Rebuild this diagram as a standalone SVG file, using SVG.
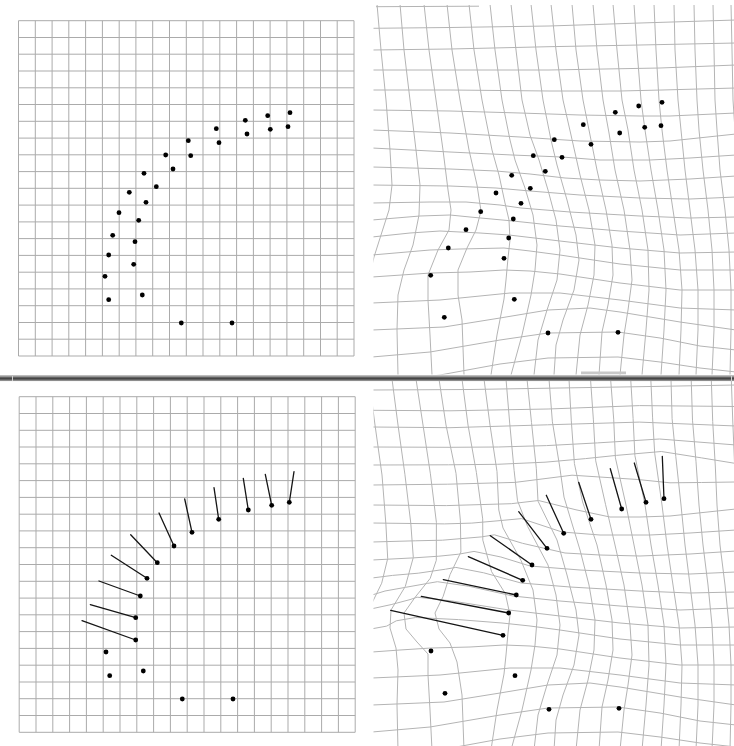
<svg xmlns="http://www.w3.org/2000/svg" xmlns:xlink="http://www.w3.org/1999/xlink" width="734" height="746" viewBox="0 0 734 746">
<style>
.g{fill:none;stroke:#ababab;stroke-width:1}
.w{fill:none;stroke:#b4b4b4;stroke-width:1;stroke-linejoin:round}
.v{stroke:#151515;stroke-width:1.3;stroke-linecap:round}
</style>
<defs>
<circle id="dot" r="2.4" fill="#000"/>
<clipPath id="cTR"><rect x="373.5" y="5" width="361" height="369.5"/></clipPath>
<clipPath id="cBR"><rect x="373.5" y="381" width="361" height="365"/></clipPath>
</defs>
<rect width="734" height="746" fill="#fff"/>

<g id="panel-top-left">
<path class="g" d="M18.5,20.7V356M35.3,20.7V356M52.1,20.7V356M68.8,20.7V356M85.6,20.7V356M102.4,20.7V356M119.2,20.7V356M135.9,20.7V356M152.7,20.7V356M169.5,20.7V356M186.3,20.7V356M203,20.7V356M219.8,20.7V356M236.6,20.7V356M253.4,20.7V356M270.1,20.7V356M286.9,20.7V356M303.7,20.7V356M320.5,20.7V356M337.2,20.7V356M354,20.7V356"/>
<path class="g" d="M18.5,20.7H354M18.5,37.5H354M18.5,54.2H354M18.5,71H354M18.5,87.8H354M18.5,104.5H354M18.5,121.3H354M18.5,138.1H354M18.5,154.8H354M18.5,171.6H354M18.5,188.3H354M18.5,205.1H354M18.5,221.9H354M18.5,238.6H354M18.5,255.4H354M18.5,272.2H354M18.5,288.9H354M18.5,305.7H354M18.5,322.5H354M18.5,339.2H354M18.5,356H354"/>
<g id="points-top-left">
<use href="#dot" x="290" y="112.7"/><use href="#dot" x="267.7" y="115.7"/><use href="#dot" x="245.3" y="120.3"/><use href="#dot" x="216.3" y="128.7"/><use href="#dot" x="188.3" y="140.7"/><use href="#dot" x="165.7" y="155"/><use href="#dot" x="144" y="173.3"/><use href="#dot" x="129.3" y="192.3"/><use href="#dot" x="119" y="212.7"/><use href="#dot" x="112.7" y="235.3"/><use href="#dot" x="108.7" y="255"/><use href="#dot" x="105" y="276.3"/><use href="#dot" x="108.7" y="299.7"/>
<use href="#dot" x="288" y="126.7"/><use href="#dot" x="270.3" y="129.3"/><use href="#dot" x="247" y="134"/><use href="#dot" x="219" y="142.7"/><use href="#dot" x="190.7" y="155.7"/><use href="#dot" x="173" y="169"/><use href="#dot" x="156.3" y="186.7"/><use href="#dot" x="146" y="202.3"/><use href="#dot" x="138.7" y="220.3"/><use href="#dot" x="135" y="241.7"/><use href="#dot" x="133.7" y="264.3"/><use href="#dot" x="142.3" y="295"/>
<use href="#dot" x="181.3" y="323"/><use href="#dot" x="232" y="323"/>
</g>
</g>

<g id="panel-top-right" clip-path="url(#cTR)">
<path class="w" d="M377,4L381,50L386,100L390,150L392,185L389,210L381,235L374,257L366,290L365,375
M400,4L404,50L410,100L416,150L420,185L419,215L413,245L404,270L398,295L397,330L398,375
M424,4L429,50L436,100L443,150L448,190L451,210L449,230L438,250L428,275L428,300L430,335L432,375
M447,4L452,50L460,100L469,150L477,185L481,211L476,230L467,248L458,270L458,295L462,320L464,375
M469,4L474,50L482,100L492,150L499,175L505,203L509,220L510,240L508,258L506,280L504,299L497,335L491,375
M490,4L495,50L502,100L510,140L515,160L525,188L533,215L537,245L535,270L531,295L522,335L511,375
M511,4L516,50L522,100L530,135L539,160L548,190L556,220L560,250L557,280L547,310L538,340L534,375
M531,4L536,50L543,100L551,140L557,165L567,200L576,235L579,260L574,290L563,320L556,345L554,375
M551,4L556,50L563,100L571,135L580,175L589,210L595,245L594,275L588,305L580,335L576,375
M572,4L576,50L583,100L590,135L597,170L606,210L612,245L613,275L608,305L602,332L599,375
M593,4L597,50L603,100L609,133L615,170L624,210L630,250L632,280L628,310L624,335L620,375
M613,4L617,50L622,100L628,130L634,170L642,210L648,250L649,290L646,330L642,375
M634,4L637,50L641,100L645,130L651,170L658,210L664,250L666,290L664,330L661,375
M654,4L656,50L659,100L662,130L667,170L673,210L679,250L682,290L681,330L679,375
M674,4L675,50L678,100L681,130L685,170L690,210L695,250L698,290L698,330L696,375
M694,4L695,50L697,100L699,130L703,170L708,210L712,250L714,290L714,330L712,375
M713,4L714,50L715,100L717,130L720,170L725,210L729,250L731,290L731,330L730,375
M731,4L732,50L733,100L735,130L738,170"/>
<path class="w" d="M376,6.7L479,6.2
M372,28.3L450,27.5L549,26L640,23L736,20
M372,50L450,49L549,46.7L640,45L736,43
M372,70L450,70L549,70L660,68L736,65
M372,90L450,90L549,91L620,91L662,90L736,88
M372,110L450,111L520,113L580,115L640,116L670,116L736,113
M372,130L450,133L520,137L580,141L640,142L670,141L736,134
M372,148L450,152L512,155L562,157L600,160L650,160L690,158L736,155
M372,167L450,169L496,171L530,174L565,178L600,180L640,181L690,179L736,176
M372,185L450,186L496,188L530,191L580,195L640,198L690,199L736,197
M372,203L430,202L466,202L500,205L521,208L570,212L640,216L690,218L736,217
M372,220L420,216L450,215L470,217L513,221L560,226L620,231L680,235L736,233
M372,237L410,233L440,231L480,233L509,235L560,241L620,248L680,253L736,252
M372,255L430,250L460,249L504,248L530,251L560,255L620,264L680,270L736,270
M372,277L431,273L470,272L504,270L530,271L560,274L620,283L680,290L736,290
M372,303L440,300L480,296L510,293L560,293L620,300L680,308L736,310
M372,330L444,327L500,318L548,310L590,308L620,312L680,322L736,330
M372,357L430,352L500,340L548,333L618,332L660,338L700,346L736,350
M372,384L440,375L500,364L548,358L618,357L660,362L700,368L736,372"/>
<rect x="581" y="371.5" width="45" height="3" fill="#c8c8c8"/>
<g id="points-top-right">
<use href="#dot" x="662" y="102.3"/><use href="#dot" x="638.7" y="106"/><use href="#dot" x="615.3" y="112.3"/><use href="#dot" x="583.3" y="124.7"/><use href="#dot" x="554.3" y="139.7"/><use href="#dot" x="533.3" y="155.7"/><use href="#dot" x="511.7" y="175.3"/><use href="#dot" x="496" y="193"/><use href="#dot" x="480.7" y="211.7"/><use href="#dot" x="466" y="229.7"/><use href="#dot" x="448.3" y="248"/><use href="#dot" x="430.7" y="275.3"/><use href="#dot" x="444.3" y="317.3"/>
<use href="#dot" x="661" y="125.7"/><use href="#dot" x="644.7" y="127.3"/><use href="#dot" x="619.7" y="133"/><use href="#dot" x="591" y="144.3"/><use href="#dot" x="562" y="157.3"/><use href="#dot" x="545.3" y="171.3"/><use href="#dot" x="530.3" y="188.3"/><use href="#dot" x="521" y="203.3"/><use href="#dot" x="513.3" y="219"/><use href="#dot" x="508.7" y="238"/><use href="#dot" x="504" y="258.3"/><use href="#dot" x="514.3" y="299.3"/>
<use href="#dot" x="548" y="333"/><use href="#dot" x="618" y="332.3"/>
</g>
</g>

<g id="splitter">
<rect x="0" y="375.5" width="734" height="5.5" fill="#6c6c6c"/>
<line x1="0" y1="376" x2="734" y2="376" stroke="#c4c4c4" stroke-width="1"/>
<line x1="0" y1="378.5" x2="734" y2="378.5" stroke="#454545" stroke-width="1.5"/>
<line x1="0" y1="380.6" x2="734" y2="380.6" stroke="#9a9a9a" stroke-width="0.8"/>
<line x1="12.5" y1="376" x2="12.5" y2="381" stroke="#d0d0d0" stroke-width="1"/>
<line x1="731.5" y1="376" x2="731.5" y2="381" stroke="#d0d0d0" stroke-width="1"/>
</g>

<g id="panel-bottom-left">
<path class="g" d="M19.2,396.7V732.3M36,396.7V732.3M52.8,396.7V732.3M69.6,396.7V732.3M86.4,396.7V732.3M103.2,396.7V732.3M120,396.7V732.3M136.8,396.7V732.3M153.6,396.7V732.3M170.4,396.7V732.3M187.2,396.7V732.3M204,396.7V732.3M220.8,396.7V732.3M237.6,396.7V732.3M254.4,396.7V732.3M271.2,396.7V732.3M288,396.7V732.3M304.8,396.7V732.3M321.6,396.7V732.3M338.4,396.7V732.3M355.2,396.7V732.3"/>
<path class="g" d="M19.2,396.7H355.2M19.2,413.5H355.2M19.2,430.3H355.2M19.2,447H355.2M19.2,463.8H355.2M19.2,480.6H355.2M19.2,497.4H355.2M19.2,514.2H355.2M19.2,530.9H355.2M19.2,547.7H355.2M19.2,564.5H355.2M19.2,581.3H355.2M19.2,598.1H355.2M19.2,614.8H355.2M19.2,631.6H355.2M19.2,648.4H355.2M19.2,665.2H355.2M19.2,682H355.2M19.2,698.7H355.2M19.2,715.5H355.2M19.2,732.3H355.2"/>
<g id="vectors-bottom-left">
<line class="v" x1="289.3" y1="502.3" x2="294" y2="471.7"/>
<line class="v" x1="271.7" y1="505.3" x2="265.3" y2="474.3"/>
<line class="v" x1="248.3" y1="510" x2="243.3" y2="478.3"/>
<line class="v" x1="218.7" y1="519.3" x2="214" y2="487.7"/>
<line class="v" x1="192" y1="532.3" x2="184.7" y2="499"/>
<line class="v" x1="174" y1="546" x2="159" y2="513"/>
<line class="v" x1="157.3" y1="562.7" x2="130.7" y2="534.7"/>
<line class="v" x1="147" y1="578.3" x2="111.3" y2="555.3"/>
<line class="v" x1="140.3" y1="596" x2="99" y2="581"/>
<line class="v" x1="135.7" y1="617.7" x2="90.3" y2="604.7"/>
<line class="v" x1="135.7" y1="640" x2="82" y2="620.7"/>
</g>
<g id="points-bottom-left">
<use href="#dot" x="289.3" y="502.3"/><use href="#dot" x="271.7" y="505.3"/><use href="#dot" x="248.3" y="510"/><use href="#dot" x="218.7" y="519.3"/><use href="#dot" x="192" y="532.3"/><use href="#dot" x="174" y="546"/><use href="#dot" x="157.3" y="562.7"/><use href="#dot" x="147" y="578.3"/><use href="#dot" x="140.3" y="596"/><use href="#dot" x="135.7" y="617.7"/><use href="#dot" x="135.7" y="640"/>
<use href="#dot" x="106" y="652"/><use href="#dot" x="109.7" y="675.7"/><use href="#dot" x="143.3" y="671"/><use href="#dot" x="182.3" y="699"/><use href="#dot" x="233" y="699"/>
</g>
</g>

<g id="panel-bottom-right" clip-path="url(#cBR)">
<path class="w" d="M369,379L375,425L382,475L385.9,524.1L387.7,558.5L381.7,583.2L369.5,608.2L368.8,631.6L366,665L365,750
M392,379L398,425L404.9,474.3L410.8,523.4L413.3,557.4L405.3,586.4L391,610L390,628L396,648L398,670L397,705L398,750
M416,379L423,425L430.4,473.8L436.4,522.4L436.3,560.3L430.2,578.4L415.1,597.3L404,613L406,629L417,642L428,654L428,675L430,710L432,750
M439,379L446,425L456,473.3L460.4,520.8L460.9,552L450,574.7L443.1,596.5L435,613L439,629L450,643L457,662L462,695L464,750
M462,379L468,425L476.4,472.5L482.7,518.9L482.8,540.1L491.6,571.7L505.4,593.7L510,615L508,633L506,655L504,674L497,710L491,750
M484,379L490,425L497,471.6L498.8,510L503,528L521,560.4L533,590L537,620L535,645L531,670L522,710L511,750
M506,379L509.7,423.1L514.1,470.3L517.5,500.7L527.6,526.4L548,565L556,595L560,625L557,655L547,685L538,715L534,750
M527,379L531.5,422.5L536.3,468.3L538,501.1L557,540L567,575L576,610L579,635L574,665L563,695L556,720L554,750
M549,379L552.4,421.8L559.6,466L564,497.1L580,550L589,585L595,620L594,650L588,680L580,710L576,750
M569,379L571.3,420.9L574.4,463.5L582.6,501.9L597,545L606,585L612,620L613,650L608,680L602,707L599,750
M590.5,379L593.4,419.9L595.7,460.8L605.6,504.7L615,545L624,585L630,625L632,655L628,685L624,710L620,750
M610.6,379L613.7,419.2L615.4,457.8L626,505L634,545L642,585L648,625L649,665L646,705L642,750
M630.7,379L633.1,418.6L634.9,455.6L645,505L651,545L658,585L664,625L666,665L664,705L661,750
M650.8,379L652.6,417.9L654.7,453.2L662,505L667,545L673,585L679,625L682,665L681,705L679,750
M671,379L672.1,418.7L675.8,456.6L681,505L685,545L690,585L695,625L698,665L698,705L696,750
M691.2,379L692.5,420.2L696,461.7L699,505L703,545L708,585L712,625L714,665L714,705L712,750
M711.3,379L712.7,421.4L715.3,466L717,505L720,545L725,585L729,625L731,665L731,705L730,750
M731.3,379L732.8,422L734.8,469.8L736,505"/>
<path class="w" d="M372,390L470,389.5L560,388L650,386.5L736,385
M372,410.3L450,410.8L548.1,409L639.6,405.6L736,406.5
M372,427L450,427.7L547.5,424.8L639.3,422.1L736,426
M372,447L449,447.3L498.3,447L546.5,445.6L597.5,442.9L659.5,439L736,445
M372,465L448.6,464.8L497.4,464.3L545,462.2L585.6,458.6L616.3,455.4L661.3,451.5L701.7,457.9L736,463.5
M372,485L447.7,484.2L515,482.4L572,475.2L637.9,479.5L670,482.8L701.4,482.5L736,482
M372,505L446.4,505.6L511.3,503.7L538.5,500.5L576,509.8L610,517L640,517L670,516L736,509
M372,523L444.6,523.9L471.8,523.1L500.1,520.6L521.5,518.6L562,532L600,535L650,535L690,533L736,530
M372,542L415.2,540.8L442.4,540.2L481.4,536.9L494.4,534.8L522.5,543.3L565,553L600,555L640,556L690,554L736,551
M372,560L413.2,557.9L438.8,556.2L458.6,554.2L474,551.4L500.9,557L530,566L580,570L640,573L690,574L736,572
M372,578L392.6,575.4L418.2,573.2L445.6,569.2L455.8,567.4L483.7,572.8L521,583L570,587L640,591L690,593L736,592
M372,595L385,591L405.7,587.3L427.6,583.4L437.4,581.7L468.5,586.2L513,596L560,601L620,606L680,610L736,608
M363.8,610.5L391.1,604.6L410,599.6L417.1,597.2L451.4,600.9L509,610L560,616L620,623L680,628L736,627
M368.1,629.5L386.7,626.1L396.3,620.8L415.7,617.5L458.5,619.6L502,623L530,626L560,630L620,639L680,645L736,645
M372,652L400,650L431,648L470,647L504,645L530,646L560,649L620,658L680,665L736,665
M372,678L440,675L480,671L510,668L560,668L620,675L680,683L736,685
M372,705L444,702L500,693L548,685L590,683L620,687L680,697L736,705
M372,732L430,727L500,715L548,708L618,707L660,713L700,721L736,725
M372,759L440,750L500,739L548,733L618,732L660,737L700,743L736,747"/>
<g id="vectors-bottom-right">
<line class="v" x1="664" y1="498.7" x2="662.3" y2="456.3"/>
<line class="v" x1="646" y1="502.3" x2="634.3" y2="463"/>
<line class="v" x1="621.7" y1="509" x2="610.3" y2="468.7"/>
<line class="v" x1="591" y1="519.3" x2="578.7" y2="482.3"/>
<line class="v" x1="563.7" y1="533.3" x2="546.3" y2="495.3"/>
<line class="v" x1="547" y1="548.3" x2="518.7" y2="511.7"/>
<line class="v" x1="532" y1="565" x2="490.3" y2="535.7"/>
<line class="v" x1="522.7" y1="580.3" x2="468.3" y2="556.7"/>
<line class="v" x1="516.3" y1="595" x2="443.3" y2="579.7"/>
<line class="v" x1="508.7" y1="613" x2="421.3" y2="596.3"/>
<line class="v" x1="503" y1="635.3" x2="390.7" y2="610.3"/>
</g>
<g id="points-bottom-right">
<use href="#dot" x="664" y="498.7"/><use href="#dot" x="646" y="502.3"/><use href="#dot" x="621.7" y="509"/><use href="#dot" x="591" y="519.3"/><use href="#dot" x="563.7" y="533.3"/><use href="#dot" x="547" y="548.3"/><use href="#dot" x="532" y="565"/><use href="#dot" x="522.7" y="580.3"/><use href="#dot" x="516.3" y="595"/><use href="#dot" x="508.7" y="613"/><use href="#dot" x="503" y="635.3"/>
<use href="#dot" x="431" y="651"/><use href="#dot" x="445" y="693.3"/><use href="#dot" x="515" y="675.7"/><use href="#dot" x="549" y="709.3"/><use href="#dot" x="619" y="708.3"/>
</g>
</g>
</svg>
